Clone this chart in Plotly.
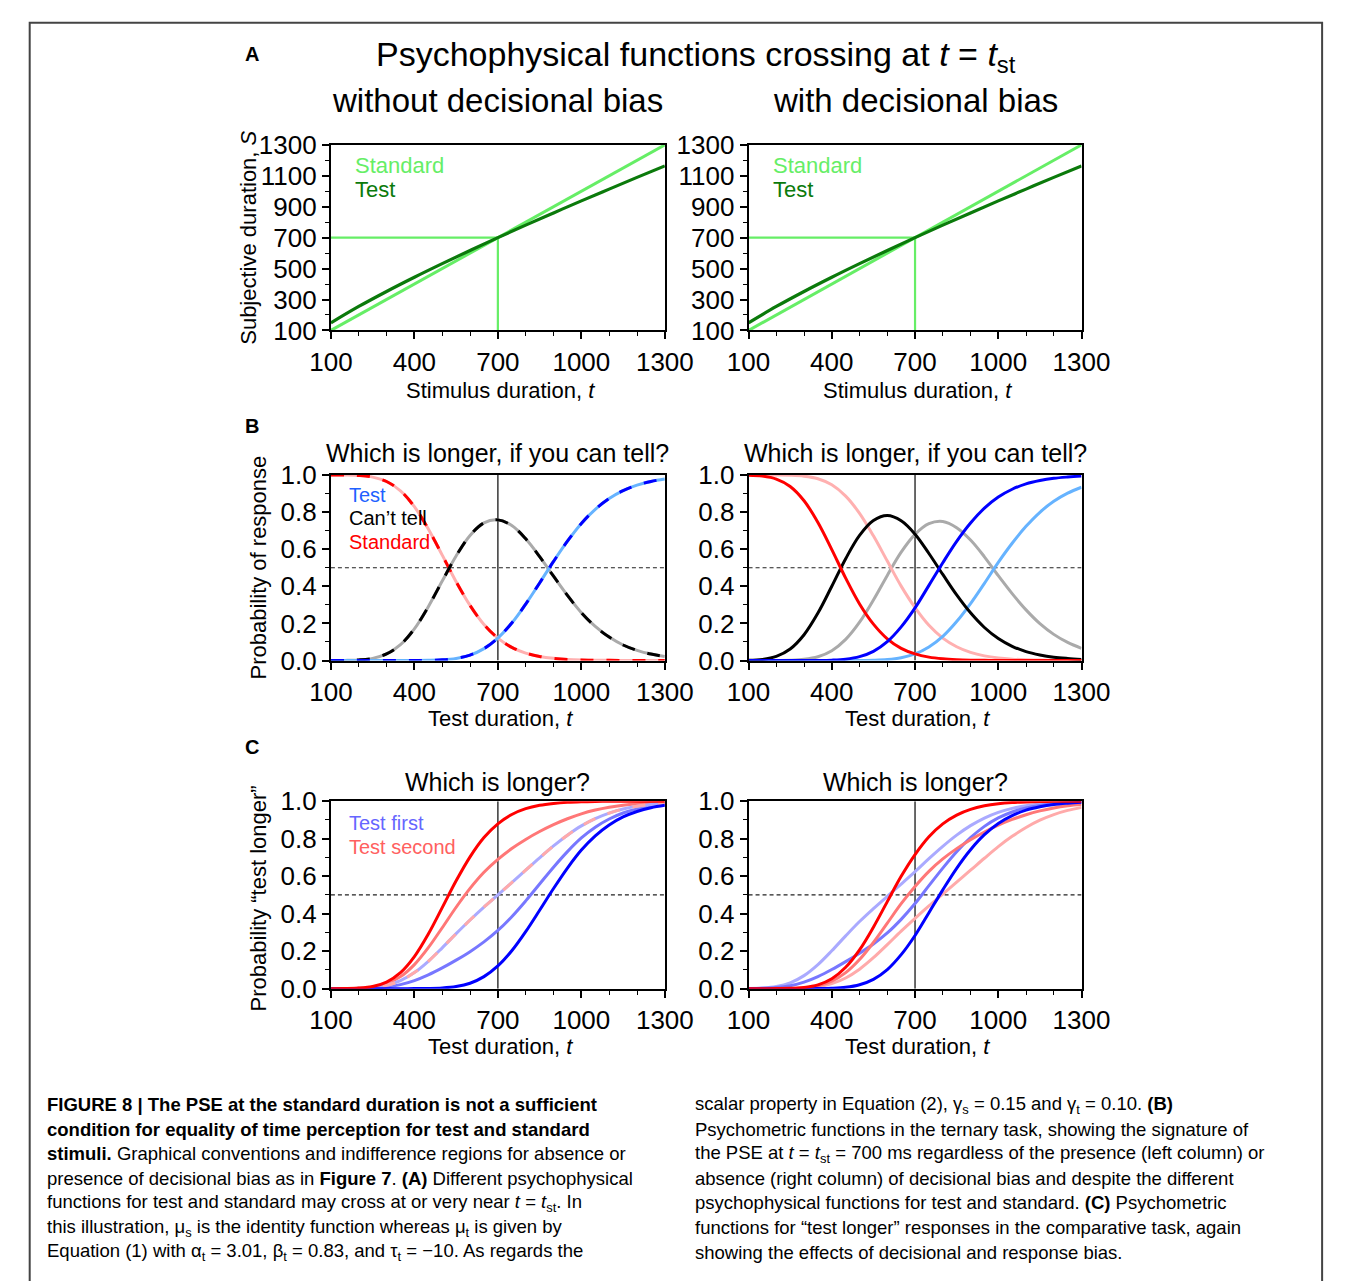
import plotly.graph_objects as go

W, H = 1354, 1281
FONT = "Liberation Sans, Arial, sans-serif"

# ---------------- data ----------------
t13 = [100, 200, 300, 400, 500, 600, 700, 800, 900, 1000, 1100, 1200, 1300]
S_standard = [100, 200, 300, 400, 500, 600, 700, 800, 900, 1000, 1100, 1200, 1300]
S_test = [149, 255, 352, 444, 532, 617, 700, 781, 860, 938, 1014, 1090, 1164]

t = [100, 150, 200, 250, 300, 350, 400, 450, 500, 550, 600, 650, 700,
     750, 800, 850, 900, 950, 1000, 1050, 1100, 1150, 1200, 1250, 1300]

# B, left (no decisional bias)
bL_test = [0, 0, 0, 0, 0, 0.00003, 0.0002, 0.0009, 0.0036, 0.0113, 0.0289, 0.064, 0.121,
           0.202, 0.304, 0.418, 0.534, 0.643, 0.739, 0.815, 0.873, 0.916, 0.945, 0.965, 0.978]
bL_cant = [0.0001, 0.0006, 0.003, 0.0116, 0.0353, 0.0855, 0.1708, 0.2901, 0.4284, 0.5637, 0.6741, 0.742, 0.758,
           0.7273, 0.6559, 0.560, 0.4543, 0.3509, 0.258, 0.1835, 0.1262, 0.0836, 0.0548, 0.0349, 0.022]
bL_std = [0.9999, 0.9994, 0.997, 0.9884, 0.9647, 0.9145, 0.829, 0.709, 0.568, 0.425, 0.297, 0.194, 0.121,
          0.0707, 0.0401, 0.022, 0.0117, 0.0061, 0.003, 0.0015, 0.0008, 0.0004, 0.0002, 0.0001, 0]

# B, right (with decisional bias): dark set and light set
bR_test_dark = [0, 0, 0, 0.00001, 0.00007, 0.0004, 0.002, 0.0071, 0.0207, 0.0496, 0.1017, 0.1814, 0.2837,
                0.405, 0.527, 0.642, 0.741, 0.821, 0.881, 0.923, 0.952, 0.970, 0.982, 0.989, 0.994]
bR_cant_dark = [0.0012, 0.006, 0.0222, 0.0621, 0.1389, 0.2556, 0.400, 0.5489, 0.6743, 0.7544, 0.7813, 0.7529, 0.6808,
                0.5768, 0.4639, 0.3535, 0.2569, 0.178, 0.1185, 0.0768, 0.0479, 0.030, 0.018, 0.011, 0.006]
bR_std_dark = [0.9988, 0.994, 0.9778, 0.9379, 0.861, 0.744, 0.598, 0.444, 0.305, 0.196, 0.117, 0.0657, 0.0355,
               0.0182, 0.0091, 0.0045, 0.0021, 0.001, 0.0005, 0.0002, 0.0001, 0, 0, 0, 0]
bR_test_light = [0, 0, 0, 0, 0, 0, 0.00001, 0.00007, 0.0004, 0.0016, 0.0053, 0.015, 0.0353,
                 0.0728, 0.130, 0.210, 0.307, 0.416, 0.529, 0.632, 0.723, 0.799, 0.858, 0.902, 0.934]
bR_cant_light = [0, 0, 0.0003, 0.0015, 0.0063, 0.0204, 0.053, 0.1139, 0.2066, 0.3264, 0.4587, 0.584, 0.6797,
                 0.7372, 0.749, 0.7156, 0.6491, 0.559, 0.4572, 0.3605, 0.2729, 0.1988, 0.1409, 0.0974, 0.0657]
bR_std_light = [1.0, 1.0, 0.9997, 0.9985, 0.9937, 0.9796, 0.947, 0.886, 0.793, 0.672, 0.536, 0.401, 0.285,
                0.190, 0.121, 0.0744, 0.0439, 0.025, 0.0138, 0.0075, 0.0041, 0.0022, 0.0011, 0.0006, 0.0003]

# C, left
cL_red = [0.0001, 0.0006, 0.003, 0.0116, 0.0353, 0.0855, 0.171, 0.291, 0.432, 0.575, 0.703, 0.806, 0.879,
          0.929, 0.960, 0.978, 0.988, 0.994, 0.997, 0.9985, 0.9992, 0.9996, 0.9998, 0.9999, 1.0]
cL_red_mid = [0.0001, 0.00045, 0.00225, 0.0087, 0.0265, 0.0641, 0.1283, 0.2185, 0.3249, 0.4341, 0.5345, 0.6205, 0.6895,
              0.7475, 0.7959, 0.838, 0.8747, 0.9062, 0.9325, 0.9526, 0.9677, 0.9787, 0.9861, 0.9912, 0.9945]
cL_mid = [0.00005, 0.0003, 0.0015, 0.0058, 0.0177, 0.0428, 0.0856, 0.1460, 0.2178, 0.2932, 0.3660, 0.435, 0.5,
          0.5657, 0.632, 0.698, 0.7612, 0.8185, 0.868, 0.9068, 0.9361, 0.9578, 0.9724, 0.9825, 0.989]
cL_blue_mid = [0.00003, 0.00015, 0.00075, 0.0029, 0.0088, 0.0214, 0.0429, 0.0734, 0.1107, 0.1522, 0.1974, 0.2495, 0.3105,
               0.3838, 0.468, 0.558, 0.6476, 0.7307, 0.8035, 0.8609, 0.9046, 0.9369, 0.9587, 0.9737, 0.9835]
cL_blue = [0, 0, 0, 0, 0, 0.00003, 0.0002, 0.0009, 0.0036, 0.0113, 0.0289, 0.064, 0.121,
           0.202, 0.304, 0.418, 0.534, 0.643, 0.739, 0.815, 0.873, 0.916, 0.945, 0.965, 0.978]

# C, right
cR_blue = [0, 0, 0, 0.00001, 0.00007, 0.0004, 0.002, 0.0071, 0.0207, 0.0496, 0.1017, 0.1814, 0.2837,
           0.405, 0.527, 0.642, 0.741, 0.821, 0.881, 0.923, 0.952, 0.970, 0.982, 0.989, 0.994]
cR_blue_mid = [0.0003, 0.0015, 0.0056, 0.0155, 0.0348, 0.0643, 0.102, 0.1443, 0.1893, 0.2382, 0.297, 0.3696, 0.4539,
               0.5492, 0.643, 0.7304, 0.8052, 0.8655, 0.9106, 0.9422, 0.964, 0.9775, 0.9865, 0.9918, 0.9955]
cR_blue_light = [0.0006, 0.003, 0.0111, 0.0311, 0.0695, 0.1282, 0.202, 0.2816, 0.3579, 0.4268, 0.4924, 0.5579, 0.6241,
                 0.6934, 0.759, 0.8188, 0.8695, 0.91, 0.9403, 0.9614, 0.976, 0.985, 0.991, 0.9945, 0.997]
cR_red = [0, 0, 0.0003, 0.0015, 0.0063, 0.0204, 0.053, 0.114, 0.207, 0.328, 0.464, 0.599, 0.715,
          0.810, 0.879, 0.9256, 0.9561, 0.975, 0.9862, 0.9925, 0.9959, 0.9978, 0.9989, 0.9994, 0.9997]
cR_red_mid = [0, 0, 0.0002, 0.0011, 0.0047, 0.0153, 0.0398, 0.0855, 0.1554, 0.2464, 0.3493, 0.453, 0.5451,
              0.6257, 0.6918, 0.7467, 0.7938, 0.8353, 0.8719, 0.9024, 0.9277, 0.9481, 0.9637, 0.9751, 0.9833]
cR_red_light = [0, 0, 0.00015, 0.0008, 0.0032, 0.0102, 0.0265, 0.057, 0.1037, 0.1648, 0.2347, 0.307, 0.3752,
                0.4414, 0.5045, 0.5678, 0.6316, 0.6955, 0.7576, 0.8123, 0.8595, 0.8984, 0.9285, 0.9507, 0.9669]

t_st = 700

# ---------------- colours ----------------
G_STD, G_TEST = "#66EE66", "#0B7A0B"
BLUE, LBLUE = "#0000FF", "#66B3FF"
RED, PINK = "#FF0000", "#FFB0B0"
BLACK, GRAY = "#000000", "#AAAAAA"
MBLUE, PBLUE = "#7777FF", "#AAAAFF"
MRED, PRED = "#FF7777", "#FFAAAA"

fig = go.Figure()


def ax(i):
    return ("x" if i == 1 else f"x{i}"), ("y" if i == 1 else f"y{i}")


def line(i, x, y, color, width=3, dash=None, shape="spline"):
    xa, ya = ax(i)
    fig.add_trace(go.Scatter(x=x, y=y, xaxis=xa, yaxis=ya, mode="lines",
                             line=dict(color=color, width=width, dash=dash, shape=shape),
                             hoverinfo="skip", showlegend=False))


DASH = "13px,13px"

# A panels
for i in (1, 2):
    line(i, t13, S_standard, G_STD, 3, shape="linear")
    line(i, t13, S_test, G_TEST, 3.2)

# B left: coincident curves (light solid + dark dashes)
line(3, t, bL_std, PINK, 3)
line(3, t, bL_std, RED, 3, DASH)
line(3, t, bL_cant, GRAY, 3)
line(3, t, bL_cant, BLACK, 3, DASH)
line(3, t, bL_test, LBLUE, 3)
line(3, t, bL_test, BLUE, 3, DASH)

# B right
line(4, t, bR_cant_light, GRAY, 3)
line(4, t, bR_std_light, PINK, 3)
line(4, t, bR_test_light, LBLUE, 3)
line(4, t, bR_cant_dark, BLACK, 3)
line(4, t, bR_std_dark, RED, 3)
line(4, t, bR_test_dark, BLUE, 3)

# C left
line(5, t, cL_blue_mid, MBLUE, 3)
line(5, t, cL_red_mid, MRED, 3)
line(5, t, cL_mid, PBLUE, 3)
line(5, t, cL_mid, PRED, 3, DASH)
line(5, t, cL_blue, BLUE, 3)
line(5, t, cL_red, RED, 3)

# C right
line(6, t, cR_blue_light, PBLUE, 3)
line(6, t, cR_red_light, PRED, 3)
line(6, t, cR_blue_mid, MBLUE, 3)
line(6, t, cR_red_mid, MRED, 3)
line(6, t, cR_blue, BLUE, 3)
line(6, t, cR_red, RED, 3)

# ---------------- axes ----------------
XL = [321 / W, 668 / W]
XR = [755 / W, 1101 / W]
YA = [1 - 323 / H, 1 - 133 / H]
YB = [1 - 661 / H, 1 - 471 / H]
YC = [1 - 997 / H, 1 - 805 / H]
doms = {1: (XL, YA), 2: (XR, YA), 3: (XL, YB), 4: (XR, YB), 5: (XL, YC), 6: (XR, YC)}

tickfont = dict(family=FONT, size=26, color="black")
layout_axes = {}
for i, (xd, yd) in doms.items():
    xa, ya = ax(i)
    xkey = "xaxis" if i == 1 else f"xaxis{i}"
    ykey = "yaxis" if i == 1 else f"yaxis{i}"
    layout_axes[xkey] = dict(domain=xd, anchor=ya, range=[100, 1300], tick0=100, dtick=300,
                             ticks="outside", ticklen=7, tickwidth=1.5, tickcolor="black",
                             showline=True, mirror=True, linecolor="black", linewidth=2,
                             showgrid=False, zeroline=False, tickfont=tickfont,
                             minor=dict(ticks="outside", ticklen=4, tickwidth=1.2, tickcolor="black",
                                        tick0=100, dtick=100, showgrid=False))
    if i <= 2:
        yextra = dict(range=[100, 1300], tick0=100, dtick=200,
                      minor=dict(ticks="outside", ticklen=4, tickwidth=1.2, tickcolor="black",
                                 tick0=100, dtick=100, showgrid=False))
    else:
        yextra = dict(range=[0, 1], tick0=0, dtick=0.2, tickformat=".1f",
                      minor=dict(ticks="outside", ticklen=4, tickwidth=1.2, tickcolor="black",
                                 tick0=0, dtick=0.1, showgrid=False))
    layout_axes[ykey] = dict(domain=yd, anchor=xa, ticks="outside", ticklen=7, tickwidth=1.5,
                             tickcolor="black", showline=True, mirror=True, linecolor="black",
                             linewidth=2, showgrid=False, zeroline=False, tickfont=tickfont, **yextra)

# ---------------- reference lines ----------------
shapes = []
for i in (1, 2):
    xa, ya = ax(i)
    shapes.append(dict(type="line", xref=xa, yref=ya, x0=100, x1=t_st, y0=t_st, y1=t_st,
                       line=dict(color=G_STD, width=2.2), layer="below"))
    shapes.append(dict(type="line", xref=xa, yref=ya, x0=t_st, x1=t_st, y0=100, y1=t_st,
                       line=dict(color=G_STD, width=2.2), layer="below"))
for i in (3, 4, 5, 6):
    xa, ya = ax(i)
    shapes.append(dict(type="line", xref=xa, yref=ya, x0=t_st, x1=t_st, y0=0, y1=1,
                       line=dict(color="#444444", width=1.6), layer="below"))
    shapes.append(dict(type="line", xref=xa, yref=ya, x0=100, x1=1300, y0=0.5, y1=0.5,
                       line=dict(color="#222222", width=1.2, dash="4px,3px"), layer="below"))
# outer frame (bottom edge falls outside the page)
shapes.append(dict(type="rect", xref="paper", yref="paper", x0=8 / W, x1=1351 / W,
                   y0=-0.03, y1=1 - 8 / H, line=dict(color="#444444", width=2), layer="below"))

# ---------------- annotations ----------------
ann = []


def text(x, y, s, size, color="black", xanchor="center", angle=0, yanchor="middle"):
    ann.append(dict(x=x / W, y=1 - y / H, xref="paper", yref="paper", text=s, showarrow=False,
                    xanchor=xanchor, yanchor=yanchor, textangle=angle,
                    font=dict(family=FONT, size=size, color=color)))


text(239, 40, "<b>A</b>", 20)
text(239, 421, "<b>B</b>", 20)
text(239, 750, "<b>C</b>", 20)
text(700, 42, "Psychophysical functions crossing at <i>t</i> = <i>t</i><sub>st</sub>", 34)
text(494, 88, "without decisional bias", 33)
text(928, 88, "with decisional bias", 33)

for cx in (494, 928):
    text(cx + 3, 384, "Stimulus duration, <i>t</i>", 22)
    text(cx + 3, 720, "Test duration, <i>t</i>", 22)
    text(cx + 3, 1056, "Test duration, <i>t</i>", 22)
    text(cx, 449, "Which is longer, if you can tell?", 25)
    text(cx, 785, "Which is longer?", 25)

text(236, 228, "Subjective duration, <i>S</i>", 22, angle=-90)
text(246, 566, "Probability of response", 22, angle=-90)
text(246, 905, "Probability “test longer”", 22, angle=-90)

for x0 in (344, 778):
    text(x0, 154, "Standard", 22, G_STD, xanchor="left")
    text(x0, 179, "Test", 22, G_TEST, xanchor="left")

text(338, 491, "Test", 20, "#2060FF", xanchor="left")
text(338, 515, "Can’t tell", 20, "black", xanchor="left")
text(338, 540, "Standard", 20, RED, xanchor="left")
text(338, 827, "Test first", 20, "#6666FF", xanchor="left")
text(338, 852, "Test second", 20, "#FF6060", xanchor="left")

left_caption = [
    "<b>FIGURE 8 | The PSE at the standard duration is not a sufficient</b>",
    "<b>condition for equality of time perception for test and standard</b>",
    "<b>stimuli.</b> Graphical conventions and indifference regions for absence or",
    "presence of decisional bias as in <b>Figure 7</b>. <b>(A)</b> Different psychophysical",
    "functions for test and standard may cross at or very near <i>t</i> = <i>t</i><sub>st</sub>. In",
    "this illustration, μ<sub>s</sub> is the identity function whereas μ<sub>t</sub> is given by",
    "Equation (1) with α<sub>t</sub> = 3.01, β<sub>t</sub> = 0.83, and τ<sub>t</sub> = −10. As regards the",
]
right_caption = [
    "scalar property in Equation (2), γ<sub>s</sub> = 0.15 and γ<sub>t</sub> = 0.10. <b>(B)</b>",
    "Psychometric functions in the ternary task, showing the signature of",
    "the PSE at <i>t</i> = <i>t</i><sub>st</sub> = 700 ms regardless of the presence (left column) or",
    "absence (right column) of decisional bias and despite the different",
    "psychophysical functions for test and standard. <b>(C)</b> Psychometric",
    "functions for “test longer” responses in the comparative task, again",
    "showing the effects of decisional and response bias.",
]
line_y = [1116, 1141, 1166, 1191, 1216, 1242, 1267]
for s, y in zip(left_caption, line_y):
    text(24, y, s, 18.5, xanchor="left")
for s, y in zip(right_caption, line_y):
    text(697, y, s, 18.5, xanchor="left")

fig.update_layout(width=W, height=H, autosize=False, margin=dict(l=0, r=0, t=0, b=0),
                  paper_bgcolor="white", plot_bgcolor="white", showlegend=False,
                  shapes=shapes, annotations=ann, font=dict(family=FONT), **layout_axes)

fig.write_html("out.html", config={"displayModeBar": False},
               post_script="document.body.style.margin='0';document.body.style.overflow='hidden';")
